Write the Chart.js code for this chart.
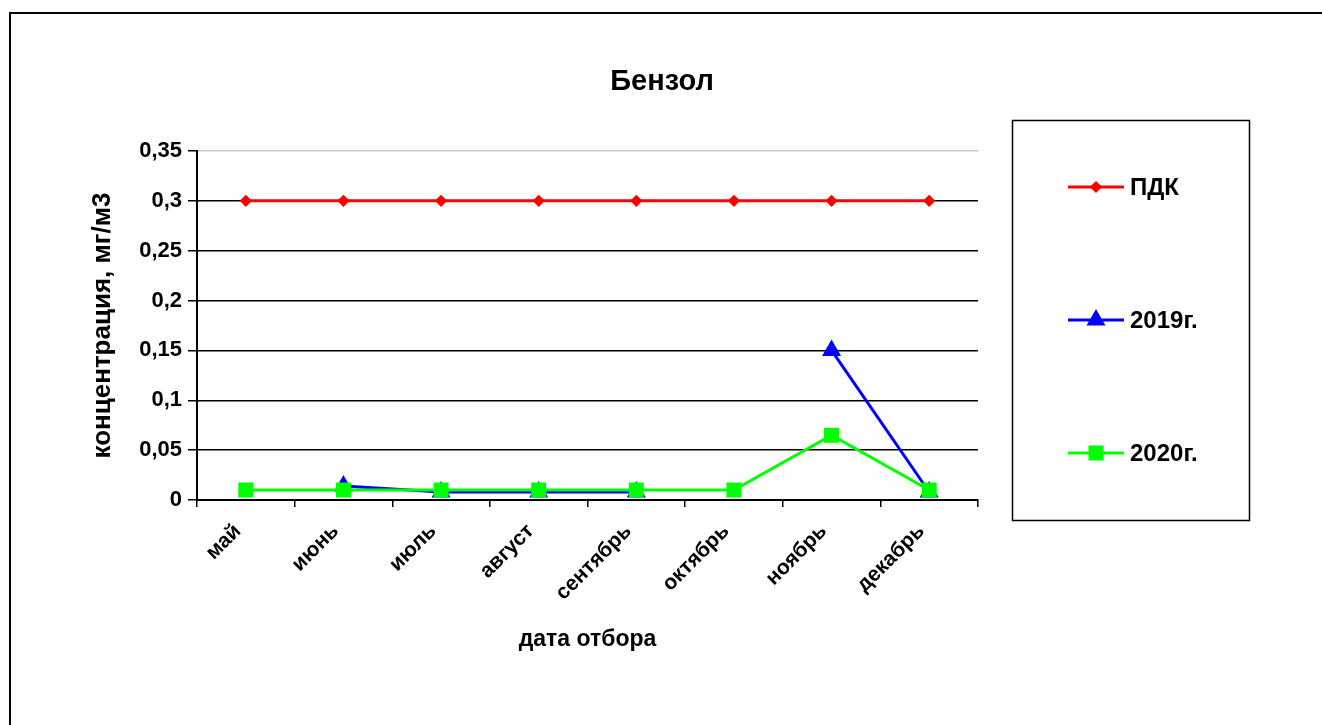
<!DOCTYPE html>
<html><head><meta charset="utf-8">
<script src="https://cdn.jsdelivr.net/npm/chart.js@4"></script>
<style>html,body{margin:0;padding:0;background:#fff;}#wrap{width:1322px;height:725px;position:relative;}</style>
</head><body><div id="wrap"><canvas id="c" width="1322" height="725"></canvas></div>
<script>
const chartTitle = 'Бензол';
const categories = ['май','июнь','июль','август','сентябрь','октябрь','ноябрь','декабрь'];
const seriesPDK = [0.3, 0.3, 0.3, 0.3, 0.3, 0.3, 0.3, 0.3];
const series2019 = [null, 0.014, 0.008, 0.008, 0.008, null, 0.15, 0.008];
const series2020 = [0.01, 0.01, 0.01, 0.01, 0.01, 0.01, 0.065, 0.01];
const seriesNames = ['ПДК', '2019г.', '2020г.'];
const yTitle = 'концентрация, мг/м3';
const xTitle = 'дата отбора';

const FONT = "'Liberation Sans', Arial, sans-serif";

const framePlugin = {
  id: 'frame',
  afterDraw(chart) {
    const ctx = chart.ctx;
    ctx.save();
    ctx.strokeStyle = '#000';
    ctx.lineWidth = 2;
    ctx.beginPath();
    ctx.moveTo(10, 800); ctx.lineTo(10, 13); ctx.lineTo(1400, 13);
    ctx.stroke();
    ctx.fillStyle = '#000';
    ctx.font = "bold 29px " + FONT;
    ctx.textAlign = 'center';
    ctx.textBaseline = 'middle';
    ctx.fillText(chartTitle, 662, 82);
    ctx.lineWidth = 1.5;
    ctx.strokeRect(1012.5, 120.5, 237, 400);
    const ys = [187, 320, 453];
    chart.data.datasets.forEach((ds, i) => {
      const y = ys[i];
      ctx.strokeStyle = ds.borderColor;
      ctx.lineWidth = 3;
      ctx.beginPath(); ctx.moveTo(1068, y); ctx.lineTo(1124, y); ctx.stroke();
      ctx.fillStyle = ds.pointBackgroundColor;
      ctx.strokeStyle = ds.pointBorderColor;
      Chart.helpers.drawPoint(ctx, {pointStyle: ds.pointStyle, radius: ds.pointRadius, rotation: 0, borderWidth: 1}, 1096, y);
      ctx.fillStyle = '#000';
      ctx.font = "bold 24px " + FONT;
      ctx.textAlign = 'left';
      ctx.textBaseline = 'middle';
      ctx.fillText(ds.label, 1130, y + 1);
    });
    ctx.restore();
  }
};

const padLeft = 83, padBottom = 68;
new Chart(document.getElementById('c'), {
  type: 'line',
  data: {
    labels: categories,
    datasets: [
      {label: seriesNames[0], data: seriesPDK, borderColor: '#ff0000', backgroundColor: '#ff0000', pointBackgroundColor: '#ff0000', pointBorderColor: '#ff0000', pointStyle: 'rectRot', pointRadius: 4, borderWidth: 3, order: 0},
      {label: seriesNames[1], data: series2019, borderColor: '#0000ff', backgroundColor: '#0000ff', pointBackgroundColor: '#0000ff', pointBorderColor: '#0000ff', pointStyle: 'triangle', pointRadius: 8, borderWidth: 3, order: 2, spanGaps: false},
      {label: seriesNames[2], data: series2020, borderColor: '#00ff00', backgroundColor: '#00ff00', pointBackgroundColor: '#00ff00', pointBorderColor: '#00ff00', pointStyle: 'rect', pointRadius: 8.5, borderWidth: 3, order: 1}
    ]
  },
  options: {
    responsive: false,
    animation: false,
    devicePixelRatio: 1,
    layout: {padding: {top: 151, right: 344, left: padLeft, bottom: padBottom}},
    plugins: {legend: {display: false}, title: {display: false}, tooltip: {enabled: false}},
    elements: {line: {tension: 0}, point: {hoverRadius: 8}},
    scales: {
      x: {
        offset: true,
        grid: {display: true, offset: true, drawOnChartArea: false, drawTicks: true, tickLength: 7, color: '#000', lineWidth: 1.5},
        border: {display: true, color: '#000', width: 2},
        ticks: {maxRotation: 45, minRotation: 45, autoSkip: false, color: '#000', font: {family: FONT, size: 21, weight: 'bold'}, padding: 12, labelOffset: -8},
        title: {display: true, text: xTitle, color: '#000', font: {family: FONT, size: 23, weight: 'bold'}},
        afterFit(scale) { scale.height = 157; }
      },
      y: {
        min: 0, max: 0.35,
        ticks: {stepSize: 0.05, color: '#000', font: {family: FONT, size: 22, weight: 'bold'}, padding: 6,
          callback: (v) => Number(Number(v).toFixed(2)).toString().replace('.', ',')},
        grid: {color: (c) => (c.tick && Math.abs(c.tick.value - 0.35) < 1e-6) ? '#c8c8c8' : '#000', lineWidth: 1.5, tickLength: 9, drawTicks: true,
          tickColor: '#000'},
        border: {display: true, color: '#000', width: 2},
        title: {display: true, text: yTitle, color: '#000', font: {family: FONT, size: 26, weight: 'bold'}},
        afterFit(scale) { scale.width = 197 - padLeft; }
      }
    }
  },
  plugins: [framePlugin]
});
</script>
</body></html>
